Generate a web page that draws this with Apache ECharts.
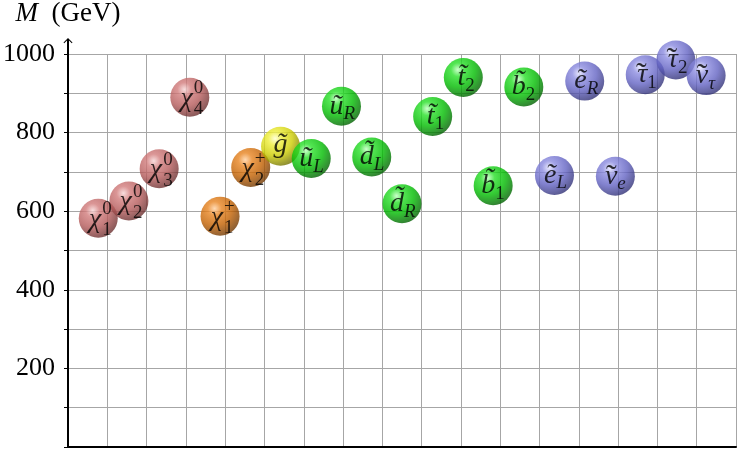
<!DOCTYPE html>
<html>
<head>
<meta charset="utf-8">
<script src="https://cdn.jsdelivr.net/npm/echarts@6/dist/echarts.min.js"></script>
<style>html,body{margin:0;padding:0;background:#fff}#c{width:739px;height:450px}</style>
</head>
<body>
<div id="c"></div>
<script>
// ---- data ----
const xPos   = [0.77, 1.55, 2.32, 3.10, 3.87, 4.65, 5.41, 6.19, 6.96, 7.73, 8.50, 9.28, 10.06, 10.82, 11.60, 12.38, 13.15, 13.93, 14.69, 15.47, 16.24];
const masses = [582, 626, 708, 890, 587, 711, 765, 734, 867, 738, 619, 841, 940, 665, 916, 691, 931, 689, 947, 985, 945];
const glyphs = ['χ','χ','χ','χ','χ','χ','g','u','u','d','d','t','t','b','b','e','e','ν','τ','τ','ν'];
const tildes = [false,false,false,false,false,false,true,true,true,true,true,true,true,true,true,true,true,true,true,true,true];
const subs   = ['1','2','3','4','1','2','','L','R','L','R','1','2','1','2','L','R','e','1','2','τ'];
const sups   = ['0','0','0','0','+','+','','','','','','','','','','','','','','',''];
const groups = ['neutralino','neutralino','neutralino','neutralino','chargino','chargino','gluino',
                'squark','squark','squark','squark','squark','squark','squark','squark',
                'slepton','slepton','slepton','slepton','slepton','slepton'];
const yTickLabels = [200, 400, 600, 800, 1000];

// ---- styles ----
const FONT = 'Liberation Serif';
const ballStops = {
  neutralino: ['#f6d6d6', '#d27c7c', '#b45a5a', '#582424'],
  chargino:   ['#ffd0a0', '#e88420', '#c26000', '#5a2c00'],
  gluino:     ['#ffffd0', '#eeee38', '#cccc00', '#5a5a00'],
  squark:     ['#c0ffc0', '#28e028', '#00bb00', '#004a00'],
  slepton:    ['#e4e4ff', '#8c8ce0', '#6262c2', '#242462']
};
function ballColor(g) {
  const s = ballStops[g];
  return { type: 'radial', x: 0.36, y: 0.3, r: 0.8,
    colorStops: [{offset: 0, color: s[0]}, {offset: 0.22, color: s[1]}, {offset: 0.55, color: s[2]}, {offset: 1, color: s[3]}] };
}
const clear = 'rgba(0,0,0,0)';
const isGreek = s => /[\u0370-\u03FF]/.test(s);

const ballData = xPos.map((x, i) => {
  const isChi = glyphs[i] === 'χ';
  const hasSub = subs[i] !== '';
  // Latin letters get a combining tilde; Greek ones get a separate tilde label
  const text = glyphs[i] + (tildes[i] && !isGreek(glyphs[i]) ? '\u0303' : '');
  return {
    value: [x, masses[i]],
    itemStyle: { color: ballColor(groups[i]) },
    label: {
      formatter: text,
      align: hasSub ? 'right' : 'center',
      offset: hasSub ? (isChi ? [3, 1] : [2, 0]) : [0, -2]
    }
  };
});
const tildeData = xPos.map((x, i) => ({
  value: [x, masses[i]],
  label: { formatter: (tildes[i] && isGreek(glyphs[i])) ? '\u02DC' : '', offset: [-4, 1] }
}));
const subData = xPos.map((x, i) => {
  const isChi = glyphs[i] === 'χ';
  return {
    value: [x, masses[i]],
    label: {
      formatter: subs[i],
      fontStyle: /\d/.test(subs[i]) ? 'normal' : 'italic',
      offset: isChi ? [4, 12] : [2, 8]
    }
  };
});
const supData = xPos.map((x, i) => ({
  value: [x, masses[i]],
  label: { formatter: sups[i], offset: [4, -9] }
}));

const chart = echarts.init(document.getElementById('c'), null, {renderer: 'canvas'});
chart.setOption({
  animation: false,
  grid: { left: 67, right: 3, top: 54, bottom: 3 },
  xAxis: {
    type: 'value', min: 0, max: 17, interval: 1,
    axisLine: { show: true, onZero: false, lineStyle: { color: '#000', width: 2 } },
    axisTick: { show: false },
    axisLabel: { show: false },
    splitLine: { show: true, lineStyle: { color: '#a6a6a6', width: 1 } }
  },
  yAxis: {
    type: 'value', min: 0, max: 1000, interval: 100,
    name: '{i|M}  (GeV)',
    nameLocation: 'end',
    nameGap: 27,
    nameTextStyle: { fontFamily: FONT, fontSize: 27, color: '#000',
      rich: { i: { fontFamily: FONT, fontSize: 27, fontStyle: 'italic', color: '#000' } } },
    axisLine: { show: true, onZero: false,
      lineStyle: { color: '#000', width: 2 },
      symbol: ['none', 'path://M4,1 L6,1 L6,16 L4,16 Z M5,0 L9.5,4.5 L8.8,5.2 L5,1.6 L1.2,5.2 L0.5,4.5 Z'],
      symbolSize: [10, 16], symbolOffset: [0, 8] },
    axisTick: { show: true, inside: false, length: 4, lineStyle: { color: '#000', width: 1 } },
    axisLabel: { margin: 13, fontFamily: FONT, fontSize: 26, color: '#000',
      formatter: v => (yTickLabels.indexOf(v) >= 0 ? String(v) : '') },
    splitLine: { show: true, lineStyle: { color: '#a6a6a6', width: 1 } }
  },
  series: [
    {
      type: 'scatter', clip: false, symbol: 'circle', symbolSize: 39, z: 3,
      label: { show: true, position: 'inside', fontFamily: FONT, fontStyle: 'italic', fontSize: 28, color: '#000' },
      data: ballData
    },
    {
      type: 'scatter', clip: false, symbol: 'circle', symbolSize: 1, z: 4, silent: true,
      itemStyle: { color: clear },
      label: { show: true, position: 'inside', align: 'center', fontFamily: FONT, fontSize: 32, color: '#000' },
      data: tildeData
    },
    {
      type: 'scatter', clip: false, symbol: 'circle', symbolSize: 1, z: 4, silent: true,
      itemStyle: { color: clear },
      label: { show: true, position: 'inside', align: 'left', fontFamily: FONT, fontSize: 19, color: '#000' },
      data: subData
    },
    {
      type: 'scatter', clip: false, symbol: 'circle', symbolSize: 1, z: 4, silent: true,
      itemStyle: { color: clear },
      label: { show: true, position: 'inside', align: 'left', fontFamily: FONT, fontSize: 19, color: '#000' },
      data: supData
    }
  ]
});
</script>
</body>
</html>
